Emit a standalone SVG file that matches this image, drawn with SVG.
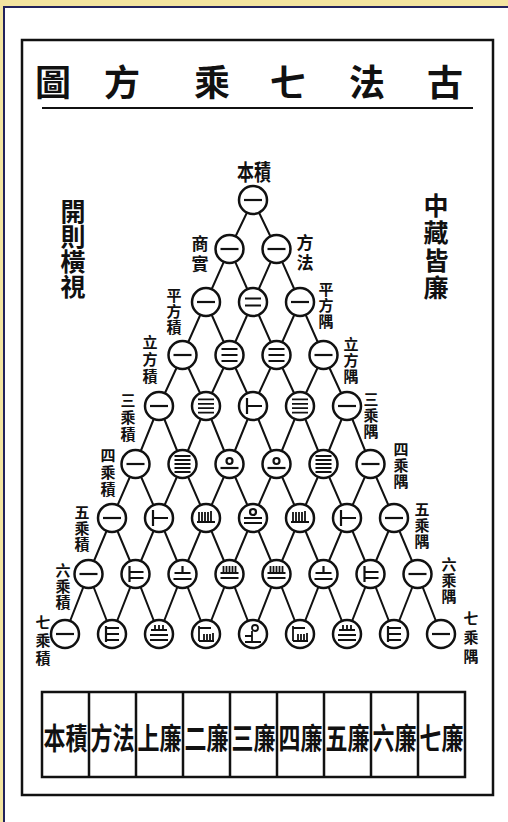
<svg xmlns="http://www.w3.org/2000/svg" width="508" height="822" viewBox="0 0 508 822">
<style>
.cjk{font-family:"Noto Sans CJK TC","Noto Sans CJK SC",sans-serif;font-weight:700;fill:#111;text-anchor:middle;dominant-baseline:central}
.t{font-size:36px}
.s{font-size:25px}
.l{font-size:15px}
.m{font-size:17px}
.b{font-size:22px}
.c{fill:#fff;stroke:#111;stroke-width:2.5}
.g{fill:none;stroke:#111;stroke-width:2.2}
.g2{fill:none;stroke:#111;stroke-width:1.8}
.e{fill:none;stroke:#111;stroke-width:2}
.f{fill:none;stroke:#111;stroke-width:2.5}
</style>
<defs>
<path id="d1" class="g" d="M-9 0H9"/>
<path id="d2" class="g" d="M-8 -3.5H8M-8 3.5H8"/>
<path id="d3" class="g" d="M-8 -6H8M-8 0H8M-8 6H8"/>
<path id="d4" class="g2" d="M-8 -6.6H8M-8 -2.2H8M-8 2.2H8M-8 6.6H8"/>
<path id="d5" class="g2" d="M-8 -8H8M-8 -4H8M-8 0H8M-8 4H8M-8 8H8"/>
<path id="d6" class="g" d="M-6 -8V8M-6 0H9"/>
<path id="d7" class="g" d="M-6 -8V8M-6 -2H8M-6 4H8"/>
<path id="d8" class="g" d="M-6 -8V8M-6 -6H7M-6 0H7M-6 6H7"/>
<g id="d10" class="g"><circle cx="0" cy="-3" r="3"/><path d="M-9 4H9"/></g>
<path id="d15" class="g2" d="M-7 -6V4M-4 -6V4M-1 -6V4M2 -6V4M5 -7V4M-9 4H9"/>
<g id="d20" class="g"><circle cx="0" cy="-6" r="3"/><path d="M-9 0H9M-9 5H9"/></g>
<path id="d21" class="g" d="M0 -8V-1M-8 -1H8M-9 5H9"/>
<path id="d28" class="g2" d="M-4 -9V-4M0 -9V-4M4 -9V-4M-8 -4H8M-9 1H9M-9 6H9"/>
<path id="d35" class="g2" d="M-6 -8V-1M-3 -8V-1M0 -8V-1M3 -8V-1M6 -8V-1M-9 -1H9M-9 4H9"/>
<path id="d56" class="g2" d="M-7 -8V7M-7 -6H5M-2 0V7M1 0V7M4 0V7M7 -1V7M-7 7H8"/>
<g id="d70" class="g2"><circle cx="2" cy="-6" r="3"/><path d="M-1 -3V8M-8 2H-1M-8 8H8"/></g>
</defs>

<rect width="508" height="822" fill="#f3e4a0"/>
<rect x="4" y="7" width="520" height="830" fill="#fff" stroke="#22225c" stroke-width="2"/>
<rect x="22" y="40" width="471" height="755" class="f"/>
<line x1="42" y1="108" x2="473" y2="108" stroke="#111" stroke-width="2"/>

<g id="title" class="cjk t">
<text x="53" y="80">圖</text>
<text x="122" y="80">方</text>
<text x="212" y="80">乘</text>
<text x="288" y="80">七</text>
<text x="367" y="80">法</text>
<text x="445" y="80">古</text>
</g>

<g id="side-notes" class="cjk s">
<text x="73" y="210"><tspan x="73" y="210">開</tspan><tspan x="73" y="235">則</tspan><tspan x="73" y="260">橫</tspan><tspan x="73" y="285">視</tspan></text>
<text x="436" y="204"><tspan x="436" y="204">中</tspan><tspan x="436" y="231">藏</tspan><tspan x="436" y="259">皆</tspan><tspan x="436" y="286">廉</tspan></text>
</g>

<g id="connectors" class="e">
<polyline points="253,200 276.5,249 300,302 323.5,355 347,406 370.5,464 394,518 417.5,574 441,634"/>
<polyline points="229.5,249 253,302 276.5,355 300,406 323.5,464 347,518 370.5,574 394,634"/>
<polyline points="206,302 229.5,355 253,406 276.5,464 300,518 323.5,574 347,634"/>
<polyline points="182.5,355 206,406 229.5,464 253,518 276.5,574 300,634"/>
<polyline points="159,406 182.5,464 206,518 229.5,574 253,634"/>
<polyline points="135.5,464 159,518 182.5,574 206,634"/>
<polyline points="112,518 135.5,574 159,634"/>
<polyline points="88.5,574 112,634"/>
<polyline points="253,200 229.5,249 206,302 182.5,355 159,406 135.5,464 112,518 88.5,574 65,634"/>
<polyline points="276.5,249 253,302 229.5,355 206,406 182.5,464 159,518 135.5,574 112,634"/>
<polyline points="300,302 276.5,355 253,406 229.5,464 206,518 182.5,574 159,634"/>
<polyline points="323.5,355 300,406 276.5,464 253,518 229.5,574 206,634"/>
<polyline points="347,406 323.5,464 300,518 276.5,574 253,634"/>
<polyline points="370.5,464 347,518 323.5,574 300,634"/>
<polyline points="394,518 370.5,574 347,634"/>
<polyline points="417.5,574 394,634"/>
</g>

<g id="nodes">
<g id="n0-0"><circle class="c" cx="253" cy="200" r="14"/><use href="#d1" x="253" y="200"/></g>
<g id="n1-0"><circle class="c" cx="229.5" cy="249" r="14"/><use href="#d1" x="229.5" y="249"/></g>
<g id="n1-1"><circle class="c" cx="276.5" cy="249" r="14"/><use href="#d1" x="276.5" y="249"/></g>
<g id="n2-0"><circle class="c" cx="206" cy="302" r="14"/><use href="#d1" x="206" y="302"/></g>
<g id="n2-1"><circle class="c" cx="253" cy="302" r="14"/><use href="#d2" x="253" y="302"/></g>
<g id="n2-2"><circle class="c" cx="300" cy="302" r="14"/><use href="#d1" x="300" y="302"/></g>
<g id="n3-0"><circle class="c" cx="182.5" cy="355" r="14"/><use href="#d1" x="182.5" y="355"/></g>
<g id="n3-1"><circle class="c" cx="229.5" cy="355" r="14"/><use href="#d3" x="229.5" y="355"/></g>
<g id="n3-2"><circle class="c" cx="276.5" cy="355" r="14"/><use href="#d3" x="276.5" y="355"/></g>
<g id="n3-3"><circle class="c" cx="323.5" cy="355" r="14"/><use href="#d1" x="323.5" y="355"/></g>
<g id="n4-0"><circle class="c" cx="159" cy="406" r="14"/><use href="#d1" x="159" y="406"/></g>
<g id="n4-1"><circle class="c" cx="206" cy="406" r="14"/><use href="#d4" x="206" y="406"/></g>
<g id="n4-2"><circle class="c" cx="253" cy="406" r="14"/><use href="#d6" x="253" y="406"/></g>
<g id="n4-3"><circle class="c" cx="300" cy="406" r="14"/><use href="#d4" x="300" y="406"/></g>
<g id="n4-4"><circle class="c" cx="347" cy="406" r="14"/><use href="#d1" x="347" y="406"/></g>
<g id="n5-0"><circle class="c" cx="135.5" cy="464" r="14"/><use href="#d1" x="135.5" y="464"/></g>
<g id="n5-1"><circle class="c" cx="182.5" cy="464" r="14"/><use href="#d5" x="182.5" y="464"/></g>
<g id="n5-2"><circle class="c" cx="229.5" cy="464" r="14"/><use href="#d10" x="229.5" y="464"/></g>
<g id="n5-3"><circle class="c" cx="276.5" cy="464" r="14"/><use href="#d10" x="276.5" y="464"/></g>
<g id="n5-4"><circle class="c" cx="323.5" cy="464" r="14"/><use href="#d5" x="323.5" y="464"/></g>
<g id="n5-5"><circle class="c" cx="370.5" cy="464" r="14"/><use href="#d1" x="370.5" y="464"/></g>
<g id="n6-0"><circle class="c" cx="112" cy="518" r="14"/><use href="#d1" x="112" y="518"/></g>
<g id="n6-1"><circle class="c" cx="159" cy="518" r="14"/><use href="#d6" x="159" y="518"/></g>
<g id="n6-2"><circle class="c" cx="206" cy="518" r="14"/><use href="#d15" x="206" y="518"/></g>
<g id="n6-3"><circle class="c" cx="253" cy="518" r="14"/><use href="#d20" x="253" y="518"/></g>
<g id="n6-4"><circle class="c" cx="300" cy="518" r="14"/><use href="#d15" x="300" y="518"/></g>
<g id="n6-5"><circle class="c" cx="347" cy="518" r="14"/><use href="#d6" x="347" y="518"/></g>
<g id="n6-6"><circle class="c" cx="394" cy="518" r="14"/><use href="#d1" x="394" y="518"/></g>
<g id="n7-0"><circle class="c" cx="88.5" cy="574" r="14"/><use href="#d1" x="88.5" y="574"/></g>
<g id="n7-1"><circle class="c" cx="135.5" cy="574" r="14"/><use href="#d7" x="135.5" y="574"/></g>
<g id="n7-2"><circle class="c" cx="182.5" cy="574" r="14"/><use href="#d21" x="182.5" y="574"/></g>
<g id="n7-3"><circle class="c" cx="229.5" cy="574" r="14"/><use href="#d35" x="229.5" y="574"/></g>
<g id="n7-4"><circle class="c" cx="276.5" cy="574" r="14"/><use href="#d35" x="276.5" y="574"/></g>
<g id="n7-5"><circle class="c" cx="323.5" cy="574" r="14"/><use href="#d21" x="323.5" y="574"/></g>
<g id="n7-6"><circle class="c" cx="370.5" cy="574" r="14"/><use href="#d7" x="370.5" y="574"/></g>
<g id="n7-7"><circle class="c" cx="417.5" cy="574" r="14"/><use href="#d1" x="417.5" y="574"/></g>
<g id="n8-0"><circle class="c" cx="65" cy="634" r="14"/><use href="#d1" x="65" y="634"/></g>
<g id="n8-1"><circle class="c" cx="112" cy="634" r="14"/><use href="#d8" x="112" y="634"/></g>
<g id="n8-2"><circle class="c" cx="159" cy="634" r="14"/><use href="#d28" x="159" y="634"/></g>
<g id="n8-3"><circle class="c" cx="206" cy="634" r="14"/><use href="#d56" x="206" y="634"/></g>
<g id="n8-4"><circle class="c" cx="253" cy="634" r="14"/><use href="#d70" x="253" y="634"/></g>
<g id="n8-5"><circle class="c" cx="300" cy="634" r="14"/><use href="#d56" x="300" y="634"/></g>
<g id="n8-6"><circle class="c" cx="347" cy="634" r="14"/><use href="#d28" x="347" y="634"/></g>
<g id="n8-7"><circle class="c" cx="394" cy="634" r="14"/><use href="#d8" x="394" y="634"/></g>
<g id="n8-8"><circle class="c" cx="441" cy="634" r="14"/><use href="#d1" x="441" y="634"/></g>
</g>

<g id="row-labels" class="cjk">
<text class="m" transform="translate(254,170) scale(1,1.3)">本積</text>
<text class="m"><tspan x="200" y="242">商</tspan><tspan x="200" y="262">實</tspan></text>
<text class="m"><tspan x="305" y="241">方</tspan><tspan x="305" y="261">法</tspan></text>
<text class="l"><tspan x="174" y="294">平</tspan><tspan x="174" y="310">方</tspan><tspan x="174" y="326">積</tspan></text>
<text class="l"><tspan x="326" y="288">平</tspan><tspan x="326" y="304">方</tspan><tspan x="326" y="320">隅</tspan></text>
<text class="l"><tspan x="150" y="341">立</tspan><tspan x="150" y="358">方</tspan><tspan x="150" y="375">積</tspan></text>
<text class="l"><tspan x="351" y="343">立</tspan><tspan x="351" y="359">方</tspan><tspan x="351" y="375">隅</tspan></text>
<text class="l"><tspan x="128" y="399">三</tspan><tspan x="128" y="416">乘</tspan><tspan x="128" y="433">積</tspan></text>
<text class="l"><tspan x="371" y="398">三</tspan><tspan x="371" y="414">乘</tspan><tspan x="371" y="430">隅</tspan></text>
<text class="l"><tspan x="108" y="454">四</tspan><tspan x="108" y="471">乘</tspan><tspan x="108" y="488">積</tspan></text>
<text class="l"><tspan x="401" y="448">四</tspan><tspan x="401" y="464">乘</tspan><tspan x="401" y="480">隅</tspan></text>
<text class="l"><tspan x="82" y="511">五</tspan><tspan x="82" y="527">乘</tspan><tspan x="82" y="543">積</tspan></text>
<text class="l"><tspan x="422" y="508">五</tspan><tspan x="422" y="524">乘</tspan><tspan x="422" y="540">隅</tspan></text>
<text class="l"><tspan x="63" y="569">六</tspan><tspan x="63" y="585">乘</tspan><tspan x="63" y="601">積</tspan></text>
<text class="l"><tspan x="449" y="563">六</tspan><tspan x="449" y="579">乘</tspan><tspan x="449" y="595">隅</tspan></text>
<text class="l"><tspan x="43" y="621">七</tspan><tspan x="43" y="639">乘</tspan><tspan x="43" y="657">積</tspan></text>
<text class="l"><tspan x="471" y="617">七</tspan><tspan x="471" y="636">乘</tspan><tspan x="471" y="655">隅</tspan></text>
</g>

<g id="table">
<rect x="42" y="692" width="423" height="85" class="f"/>
<path class="f" d="M89 692V777M136 692V777M183 692V777M230 692V777M277 692V777M324 692V777M371 692V777M418 692V777"/>
<g class="cjk b">
<text transform="translate(65.5,736) scale(1,1.35)">本積</text>
<text transform="translate(112.5,736) scale(1,1.35)">方法</text>
<text transform="translate(159.5,736) scale(1,1.35)">上廉</text>
<text transform="translate(206.5,736) scale(1,1.35)">二廉</text>
<text transform="translate(253.5,736) scale(1,1.35)">三廉</text>
<text transform="translate(300.5,736) scale(1,1.35)">四廉</text>
<text transform="translate(347.5,736) scale(1,1.35)">五廉</text>
<text transform="translate(394.5,736) scale(1,1.35)">六廉</text>
<text transform="translate(441.5,736) scale(1,1.35)">七廉</text>
</g>
</g>
</svg>
